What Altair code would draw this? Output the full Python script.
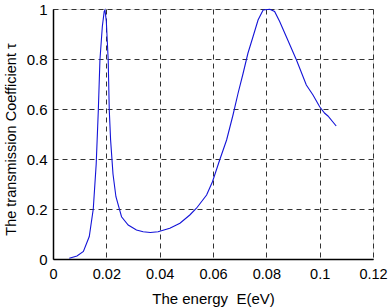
import altair as alt
import pandas as pd

energy = [0.0061, 0.0090, 0.0114, 0.0136, 0.0151, 0.0162, 0.0170, 0.0176, 0.0185, 0.0192,
          0.0195, 0.0200, 0.0207, 0.0211, 0.0216, 0.0225, 0.0236, 0.0257, 0.0282, 0.0313,
          0.0338, 0.0365, 0.0394, 0.0438, 0.0476, 0.0513, 0.0538, 0.0576, 0.0598, 0.0625,
          0.0651, 0.0675, 0.0694, 0.0713, 0.0731, 0.0750, 0.0769, 0.0788, 0.0813, 0.0831,
          0.0850, 0.0875, 0.0913, 0.0950, 0.0975, 0.1000, 0.1019, 0.1031, 0.1062]
tau = [0.003, 0.012, 0.030, 0.090, 0.200, 0.380, 0.596, 0.796, 0.930, 0.990,
       0.996, 0.950, 0.796, 0.596, 0.476, 0.340, 0.249, 0.169, 0.136, 0.116,
       0.109, 0.106, 0.109, 0.123, 0.143, 0.176, 0.203, 0.256, 0.309, 0.396,
       0.476, 0.576, 0.663, 0.743, 0.823, 0.889, 0.956, 0.996, 0.999, 0.990,
       0.950, 0.889, 0.796, 0.696, 0.656, 0.609, 0.583, 0.572, 0.532]
x_ticks = [0, 0.02, 0.04, 0.06, 0.08, 0.1, 0.12]
y_ticks = [0, 0.2, 0.4, 0.6, 0.8, 1]

df = pd.DataFrame({"E": energy, "tau": tau, "i": list(range(len(energy)))})

FONT = "Liberation Sans"

chart = alt.Chart(df).mark_line(color="#1414d8", strokeWidth=1.1).encode(
    x=alt.X("E:Q", scale=alt.Scale(domain=[0, 0.12], nice=False, zero=False),
            axis=alt.Axis(values=x_ticks, labelExpr="format(datum.value, '.2~f')",
                          title="The energy\u00a0 E(eV)",
                          grid=True, gridDash=[5, 4], gridColor="#333333", gridOpacity=1,
                          ticks=False, labelPadding=8, labelFontSize=14.5, labelFont=FONT,
                          labelColor="black", labelFlush=False, labelBound=False,
                          labelOverlap=False, labelLimit=0,
                          titleFont=FONT, titleFontSize=15, titleFontWeight="normal",
                          titleColor="black", titleX=160, titleY=39, titleBaseline="middle",
                          domainColor="black", domainWidth=1.5)),
    y=alt.Y("tau:Q", scale=alt.Scale(domain=[0, 1], nice=False),
            axis=alt.Axis(values=y_ticks, format="~g", title="The transmission Coefficient \u03c4",
                          grid=True, gridDash=[5, 4], gridColor="#333333", gridOpacity=1,
                          ticks=False, labelPadding=6, labelFontSize=15, labelFont=FONT,
                          labelColor="black", labelFlush=False, labelOverlap=False,
                          titleFont=FONT, titleFontSize=14.5, titleFontWeight="normal",
                          titleColor="black", titleX=-42, titleY=130, titleAngle=-90,
                          titleAlign="center", titleBaseline="middle",
                          domainColor="black", domainWidth=1.5)),
    order="i:Q",
).properties(
    width=320, height=250,
    autosize=alt.AutoSizeParams(type="none"),
    padding={"left": 53, "top": 9, "right": 15, "bottom": 49},
).configure_view(stroke="black", strokeWidth=1.5).configure(background="white")

chart.save("out.html", embed_options={"renderer": "svg", "actions": False})
